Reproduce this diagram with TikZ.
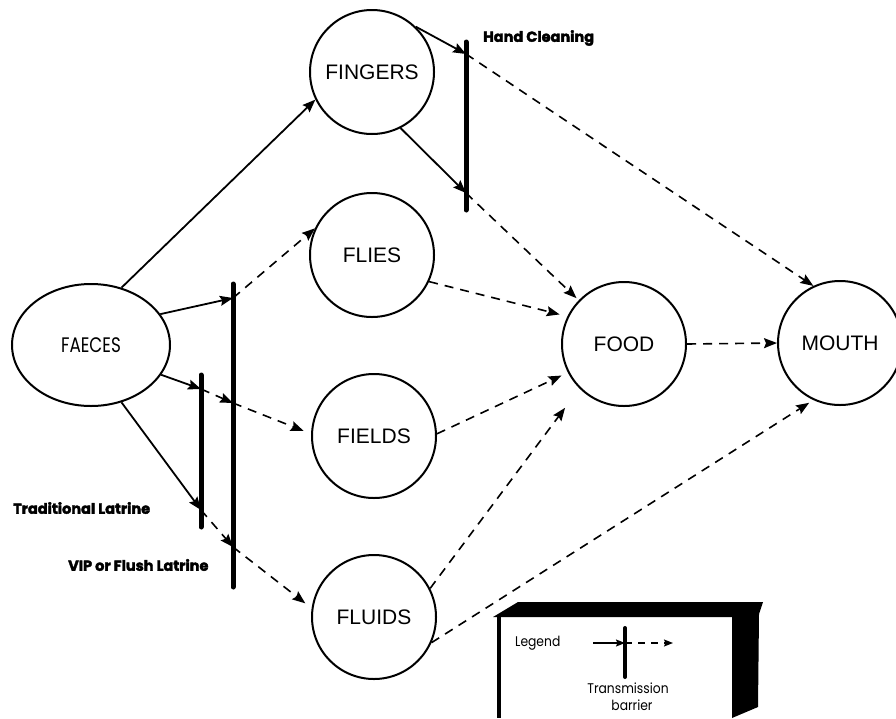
\documentclass[tikz,border=0pt]{standalone}
\usepackage{fontspec}
\setmainfont{Liberation Sans}
\newfontfamily\geofont{Poppins}[FakeStretch=0.8]
\newfontfamily\smallgeo{Poppins}[FakeStretch=0.88]
\newfontfamily\heavyfont{Poppins}[BoldFeatures={FakeBold=2.5}]
\usetikzlibrary{arrows.meta,shapes.geometric}
\begin{document}
\begin{tikzpicture}[x=1pt,y=-1pt,
  place/.style={circle, draw, line width=2pt, minimum size=124pt, inner sep=0pt, font=\fontsize{21}{25}\selectfont},
  source/.style={ellipse, draw, line width=2pt, minimum width=158pt, minimum height=122pt, inner sep=0pt, font=\geofont\fontsize{21}{24}\selectfont},
  flow/.style={line width=1.8pt, -{Stealth[length=13pt,width=10pt,inset=2pt]}},
  maybe/.style={flow, line width=1.6pt, dash pattern=on 9pt off 7pt},
  barrier/.style={line width=5pt, line cap=round},
  tag/.style={font=\heavyfont\bfseries\fontsize{14.5}{17}\selectfont, anchor=west, inner sep=0pt},
  small/.style={font=\smallgeo\fontsize{14}{16}\selectfont, inner sep=0pt},
]
\clip (0,0) rectangle (896,718);
\useasboundingbox (0,0) rectangle (896,718);

% nodes
\node[source] (faeces) at (91,345) {FAECES};
\node[place] (fingers) at (372,72) {FINGERS};
\node[place] (flies) at (372,255) {FLIES};
\node[place] (fields) at (374,436) {FIELDS};
\node[place] (fluids) at (374,617) {FLUIDS};
\node[place] (food) at (624,344) {FOOD};
\node[place] (mouth) at (840,343) {MOUTH};

% barrier crossing points
\coordinate (h1) at (466,54);
\coordinate (h2) at (466,193);
\coordinate (v1) at (233,298);
\coordinate (v2) at (233,403);
\coordinate (v3) at (233,547);
\coordinate (t1) at (201,389);
\coordinate (t2) at (201,510);
% barrier ends
\coordinate (hcT) at (466,42);
\coordinate (hcB) at (466,210);
\coordinate (vpT) at (233,284);
\coordinate (vpB) at (233,587);
\coordinate (trT) at (201,375);
\coordinate (trB) at (201,527);

% solid flows
\draw[flow] (faeces.62) -- (fingers.206);
\draw[flow] (fingers.46) -- (h1);
\draw[flow] (fingers.-63) -- (h2);
\draw[flow] (faeces.24) -- (v1);
\draw[flow] (faeces.-23) -- (t1);
\draw[flow] (faeces.-62) -- (t2);

% dashed flows
\draw[maybe] (h1) -- (mouth.115);
\draw[maybe, shorten >=3pt] (h2) -- (food.136);
\draw[maybe] (v1) -- (flies.155);
\draw[maybe] (t1) -- (v2);
\draw[maybe, shorten >=8pt] (v2) -- (fields.178);
\draw[maybe] (t2) -- (v3);
\draw[maybe, shorten >=8pt] (v3) -- (fluids.172);
\draw[maybe, shorten >=8pt] (flies.-25) -- (food.154);
\draw[maybe, shorten >=7pt] (fields.2) -- (food.207);
\draw[maybe, shorten >=24pt] (fluids.27) -- (food.225);
\draw[maybe, shorten >=5pt] (fluids.-24) -- (mouth.245);
\draw[maybe] (food.east) -- (mouth.west);

% barriers
\draw[barrier] (hcT) -- (hcB);
\draw[barrier] (vpT) -- (vpB);
\draw[barrier] (trT) -- (trB);

% labels
\node[tag] (lhc) at (483,38) {Hand Cleaning};
\node[tag] (ltr) at (13,508) {Traditional Latrine};
\node[tag] (lvp) at (68,565) {VIP or Flush Latrine};

% legend box
\fill (493,617) -- (518,602) -- (763,602) -- (759,614) -- (758,707) -- (732,718) -- (732,617) -- cycle;
\draw[line width=4pt] (499,617) -- (499,718);
\node[small, anchor=west] (lg) at (515,643) {Legend};
\coordinate (la) at (593,643);
\coordinate (lb) at (625,643);
\coordinate (lc) at (673,643);
\coordinate (lbT) at (625,628);
\coordinate (lbB) at (625,677);
\draw[flow, line width=1.5pt, -{Stealth[length=9pt,width=7pt,inset=1.5pt]}] (la) -- (lb);
\draw[maybe, line width=1.3pt, dash pattern=on 7pt off 6pt, -{Stealth[length=9pt,width=7pt,inset=1.5pt]}] (lb) -- (lc);
\draw[barrier, line width=4pt] (lbT) -- (lbB);
\node[small] (ltx) at (628,688) {Transmission};
\node[small] (lbr) at (632,705) {barrier};
\end{tikzpicture}
\end{document}
